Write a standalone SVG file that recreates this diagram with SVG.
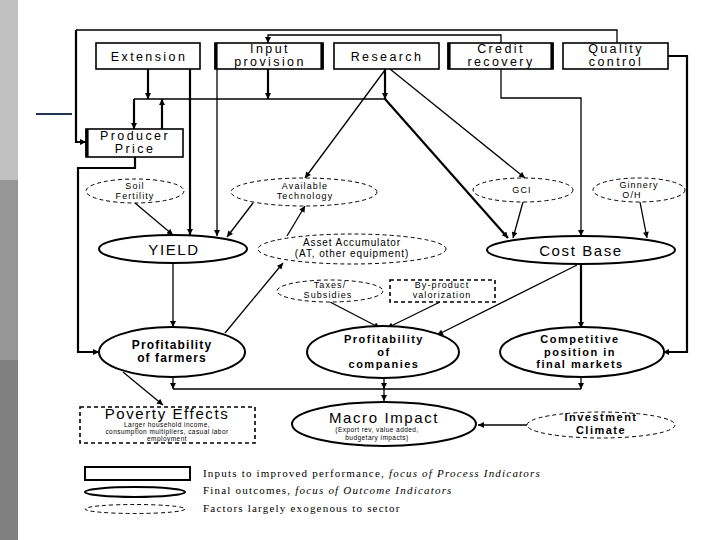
<svg xmlns="http://www.w3.org/2000/svg" width="720" height="540" viewBox="0 0 720 540">
<defs>
<marker id="ah" viewBox="0 0 10 10" refX="10" refY="5" markerWidth="7" markerHeight="6" markerUnits="userSpaceOnUse" orient="auto">
<path d="M0,0 L10,5 L0,10 z" fill="#000"/>
</marker>
</defs>
<style>
.box{fill:#fff;stroke:#000;stroke-width:1.6}
.side{stroke:#000;stroke-width:3.2}
.ell{fill:#fff;stroke:#000;stroke-width:2}
.dell{fill:#fff;stroke:#000;stroke-width:1;stroke-dasharray:4 3}
.drect{fill:#fff;stroke:#000;stroke-width:1.6;stroke-dasharray:4 3}
.c{fill:none;stroke:#000;stroke-width:1.3}
.ct{fill:none;stroke:#000;stroke-width:2.2}
.a{marker-end:url(#ah)}
text{font-family:"Liberation Sans",Arial,sans-serif;text-anchor:middle;fill:#000}
.t13{font-size:12.5px;letter-spacing:2.4px}
.t15{font-size:15px;letter-spacing:1.6px}
.t9{font-size:9px;letter-spacing:1.1px}
.tb{font-size:12px;font-weight:bold;letter-spacing:1.1px}
.tb3{font-size:11px;font-weight:bold;letter-spacing:1.5px}
.t7{font-size:6.5px;letter-spacing:0.45px}
.lg{font-family:"Liberation Serif","Times New Roman",serif;font-size:11px;letter-spacing:1.2px;text-anchor:start}
</style>
<rect x="0" y="0" width="720" height="540" fill="#fff"/>
<rect x="0" y="0" width="18" height="180" fill="#c0c0c0"/>
<rect x="0" y="180" width="18" height="180" fill="#969696"/>
<rect x="0" y="360" width="18" height="180" fill="#808080"/>
<line x1="36" y1="114" x2="72" y2="114" stroke="#1f3550" stroke-width="2"/>

<g id="connectors">
<path class="c" d="M617,43 V30 H76"/>
<path class="ct a" d="M76,30 V142 H86"/>
<path class="c a" d="M501,43 V35 H268 V43"/>
<path class="ct a" d="M148,69 V99"/>
<path class="ct a" d="M268,69 V99"/>
<path class="ct a" d="M385,69 V99"/>
<path class="c" d="M134,99 H385"/>
<path class="ct a" d="M134,99 V129"/>
<path class="ct a" d="M162,129 V99"/>
<path class="ct a" d="M190,69 V235"/>
<path class="c a" d="M217,69 V236"/>
<path class="c a" d="M385,70 L305,178"/>
<path class="ct a" d="M385,99 L508,238"/>
<path class="c a" d="M390,69 L525,178"/>
<path class="c a" d="M501,69 V98 H581 V236"/>
<path class="ct a" d="M668,56 H687 V352 H663"/>
<path class="ct a" d="M135,157 V168 H78 V352 H99"/>
<path class="c a" d="M135,203 L173,235"/>
<path class="c a" d="M253,203 L227,237"/>
<path class="c a" d="M287,236 L305,206"/>
<path class="c a" d="M523,202 L513,238"/>
<path class="c a" d="M640,202 L647,238"/>
<path class="c a" d="M173,263 V327"/>
<path class="c a" d="M225,333 L283,263"/>
<path class="c a" d="M330,302 L380,328"/>
<path class="c a" d="M440,302 L387,328"/>
<path class="c a" d="M577,265 L437,335"/>
<path class="ct a" d="M581,264 V328"/>
<path class="c a" d="M123,372 L163,405"/>
<path class="c a" d="M173,377 V389"/>
<path class="c" d="M173,389 H581"/>
<path class="c a" d="M384,378 V389"/>
<path class="c a" d="M581,377 V389"/>
<path class="c a" d="M384,389 V401"/>
<path class="c a" d="M527,425 H478"/>
</g>

<g id="extension"><rect class="box" x="96" y="43" width="104" height="26"/><text class="t13" x="149" y="61">Extension</text></g>
<g id="input-provision"><rect class="box" x="215" y="43" width="108" height="26"/><line class="side" x1="216" y1="43" x2="216" y2="69"/><line class="side" x1="322" y1="43" x2="322" y2="69"/><text class="t13" x="270" y="53">Input</text><text class="t13" x="270" y="66">provision</text></g>
<g id="research"><rect class="box" x="334" y="43" width="105" height="26"/><text class="t13" x="387" y="61">Research</text></g>
<g id="credit-recovery"><rect class="box" x="448" y="43" width="105" height="26"/><line class="side" x1="449" y1="43" x2="449" y2="69"/><line class="side" x1="552" y1="43" x2="552" y2="69"/><text class="t13" x="501" y="53">Credit</text><text class="t13" x="501" y="66">recovery</text></g>
<g id="quality-control"><rect class="box" x="563" y="43" width="105" height="26"/><text class="t13" x="616" y="53">Quality</text><text class="t13" x="616" y="66">control</text></g>
<g id="producer-price"><rect class="box" x="86" y="129" width="97" height="28"/><line class="side" x1="87" y1="129" x2="87" y2="157"/><text class="t13" x="135" y="140">Producer</text><text class="t13" x="135" y="153">Price</text></g>

<g id="soil-fertility"><ellipse class="dell" cx="135" cy="191" rx="49" ry="12"/><text class="t9" x="135" y="189">Soil</text><text class="t9" x="135" y="199">Fertility</text></g>
<g id="available-technology"><ellipse class="dell" cx="304" cy="192" rx="73" ry="14"/><text class="t9" x="305" y="189">Available</text><text class="t9" x="305" y="199">Technology</text></g>
<g id="gci"><ellipse class="dell" cx="523" cy="190" rx="50" ry="12"/><text class="t9" x="522" y="193">GCI</text></g>
<g id="ginnery"><ellipse class="dell" cx="639" cy="190" rx="46" ry="12"/><text class="t9" x="639" y="188">Ginnery</text><text class="t9" x="632" y="198">O/H</text></g>

<g id="yield"><ellipse class="ell" cx="173" cy="249" rx="74" ry="14"/><text class="t15" x="174" y="255">YIELD</text></g>
<g id="asset-accumulation"><ellipse class="dell" cx="352" cy="249" rx="94" ry="15"/><text class="t9" x="352" y="246" style="font-size:10px;letter-spacing:0.9px">Asset Accumulator</text><text class="t9" x="352" y="257" style="font-size:10px;letter-spacing:0.9px">(AT, other equipment)</text></g>
<g id="cost-base"><ellipse class="ell" cx="581" cy="250" rx="94" ry="14"/><text class="t15" x="581" y="256">Cost Base</text></g>

<g id="taxes-subsidies"><ellipse class="dell" cx="330" cy="291" rx="53" ry="11"/><text class="t9" x="330" y="288">Taxes/</text><text class="t9" x="328" y="298">Subsidies</text></g>
<g id="by-product"><rect class="drect" x="390" y="280" width="105" height="22"/><text class="t9" x="442" y="288">By-product</text><text class="t9" x="442" y="298">valorization</text></g>

<g id="profitability-farmers"><ellipse class="ell" cx="172" cy="352" rx="73" ry="25"/><text class="tb" x="172" y="349">Profitability</text><text class="tb" x="172" y="362">of farmers</text></g>
<g id="profitability-companies"><ellipse class="ell" cx="383" cy="352" rx="76" ry="26"/><text class="tb3" x="384" y="343">Profitability</text><text class="tb3" x="384" y="355.5">of</text><text class="tb3" x="384" y="368">companies</text></g>
<g id="competitive-position"><ellipse class="ell" cx="582" cy="352" rx="82" ry="25"/><text class="tb3" x="580" y="343">Competitive</text><text class="tb3" x="580" y="355.5">position in</text><text class="tb3" x="580" y="368">final markets</text></g>

<g id="poverty-effects"><rect class="drect" x="80" y="407" width="175" height="36"/><text class="t15" x="167" y="419">Poverty Effects</text><text class="t7" x="167" y="427">Larger household income,</text><text class="t7" x="167" y="434">consumption multipliers, casual labor</text><text class="t7" x="167" y="441">employment</text></g>
<g id="macro-impact"><ellipse class="ell" cx="384" cy="424" rx="92" ry="22"/><text class="t15" x="384" y="423">Macro Impact</text><text class="t7" x="377" y="432">(Export rev, value added,</text><text class="t7" x="377" y="440">budgetary impacts)</text></g>
<g id="investment-climate"><ellipse class="dell" cx="601" cy="425" rx="74" ry="13"/><text class="tb3" x="601" y="421">Investment</text><text class="tb3" x="601" y="433.5">Climate</text></g>

<g id="legend">
<rect x="85" y="467" width="105" height="13" fill="#fff" stroke="#000" stroke-width="2"/>
<ellipse cx="135" cy="492" rx="50" ry="5" fill="#fff" stroke="#000" stroke-width="2"/>
<ellipse cx="135" cy="509" rx="50" ry="4.5" fill="#fff" stroke="#000" stroke-width="1" stroke-dasharray="4 3"/>
<text class="lg" x="203" y="477">Inputs to improved performance, <tspan font-style="italic">focus of Process Indicators</tspan></text>
<text class="lg" x="203" y="494">Final outcomes, <tspan font-style="italic">focus of Outcome Indicators</tspan></text>
<text class="lg" x="203" y="512">Factors largely exogenous to sector</text>
</g>
</svg>
